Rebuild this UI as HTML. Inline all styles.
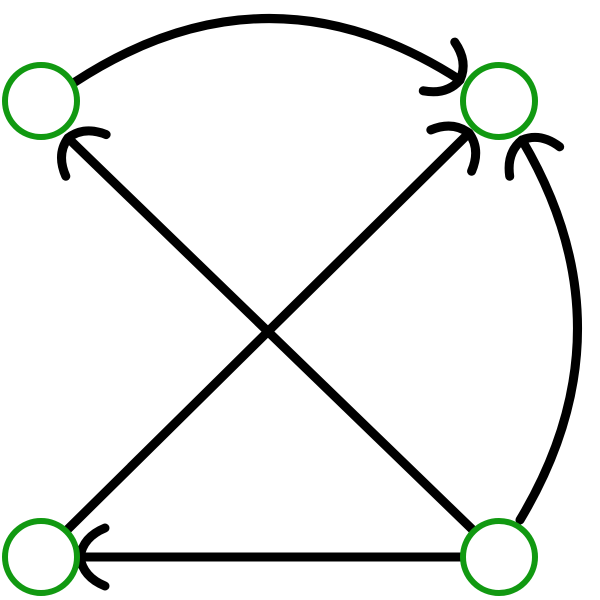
<!DOCTYPE html>
<html><head><style>html,body{margin:0;padding:0;background:#fff;}svg{display:block}</style></head>
<body>
<svg width="600" height="600" viewBox="0 0 600 600" xmlns="http://www.w3.org/2000/svg">
<defs>
<marker id="a" markerUnits="userSpaceOnUse" markerWidth="90" markerHeight="90" refX="0" refY="0" orient="auto" overflow="visible" viewBox="-45 -45 90 90">
<path d="M-25,-29 Q-3,-20 0,0 Q-3,20 -25,29" fill="none" stroke="#000" stroke-width="9" stroke-linecap="round" stroke-linejoin="round"/>
</marker>
</defs>
<g fill="none" stroke="#000" stroke-width="9" stroke-linecap="round">
<path d="M75,82 Q268,-44 460,80" marker-end="url(#a)"/>
<path d="M476,533 L68,138" marker-end="url(#a)"/>
<path d="M66,531 L469,133" marker-end="url(#a)"/>
<path d="M462,557 L80,557" marker-end="url(#a)"/>
<path d="M520,520 Q634,330 522,140" marker-end="url(#a)"/>
</g>
<g fill="#fff" stroke="#119911" stroke-width="6">
<circle cx="41" cy="101" r="36"/>
<circle cx="499" cy="101" r="36"/>
<circle cx="41" cy="557" r="36"/>
<circle cx="499" cy="557" r="36"/>
</g>
</svg>
</body></html>
